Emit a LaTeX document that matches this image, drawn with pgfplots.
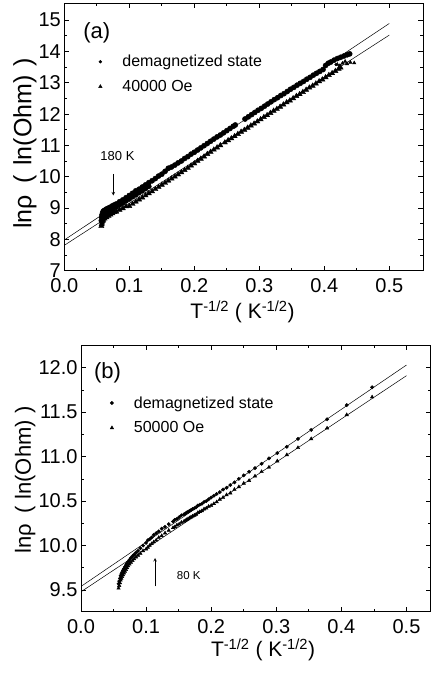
\documentclass[border=0pt]{standalone}
\usepackage{fontspec}
\setmainfont{Liberation Sans}
\usepackage{pgfplots}
\pgfplotsset{compat=1.18}
\newcommand\tickfont{\fontsize{20}{22}\selectfont}
\newcommand\labfont{\fontsize{21}{24}\selectfont}
\newcommand\legfont{\fontsize{16}{18}\selectfont}
\newcommand\ylaba{{\fontsize{25}{28}\selectfont lnρ\hspace{12pt}(\hspace{9pt}ln(Ohm)\hspace{9pt})}}
\newcommand\ylabb{{\fontsize{22}{25}\selectfont lnρ\hspace{10pt}(\hspace{7pt}ln(Ohm)\hspace{7pt})}}
\pgfplotsset{
  myaxis/.style={
    scale only axis, anchor=south west,
    axis line style={line width=0.8pt},
    tick align=inside, tick pos=both,
    xticklabel pos=bottom, yticklabel pos=left,
    major tick length=5pt, minor tick length=3pt,
    every tick/.style={line width=0.7pt, black},
    /pgf/number format/assume math mode=true,
    tick label style={font=\tickfont},
    xticklabel style={yshift=-4pt, /pgf/number format/.cd, fixed, fixed zerofill, precision=1},
    label style={font=\labfont},
    xtick={0,0.1,0.2,0.3,0.4,0.5},
    minor x tick num=1,
    minor y tick num=1,
    legend style={draw=none, fill=none, font=\legfont, inner sep=0pt, outer sep=0pt,
      row sep=12pt, nodes={inner sep=0pt, outer sep=0pt}},
    legend cell align=left,
    legend image code/.code={\path[draw=none,fill=none] (0pt,0pt) -- (22pt,0pt); \draw[##1] plot coordinates {(0pt,0pt)};},
  }
}
\begin{document}
\begin{tikzpicture}[x=1pt,y=1pt]
\useasboundingbox (0,0) rectangle (431,673);
% ---------------- panel (a)
\begin{axis}[myaxis,
  at={(64.3pt,402.3pt)}, width=358.7pt, height=267.4pt,
  xmin=0, xmax=0.5518, ymin=7, ymax=15.534,
  ytick={7,8,...,15},
  xlabel={T\textsuperscript{-1/2} ( K\textsuperscript{-1/2})},
  ylabel={\ylaba},
  xlabel style={at={(axis description cs:0.497,-0.154)}, anchor=center},
  ylabel style={at={(axis description cs:-0.11,0.476)}, anchor=center},
  legend style={at={(axis description cs:0.0957,0.806)}, anchor=north west},
]
\addplot[black, line width=0.5pt, forget plot] coordinates {(0,7.98) (0.5,14.89)};
\addplot[black, line width=0.5pt, forget plot] coordinates {(0,7.81) (0.5,14.52)};
\addplot[only marks, mark=*, mark size=2.6pt, black, forget plot] coordinates {
(0.0570,8.60)(0.0575,8.70)(0.0580,8.78)(0.0590,8.85)(0.0600,8.90)(0.0620,8.93)
(0.0650,8.97)(0.0680,9.00)(0.0710,9.03)(0.0740,9.07)(0.0770,9.10)(0.0800,9.13)
(0.0600,8.72)(0.0630,8.80)(0.0660,8.85)(0.0700,8.90)(0.0750,8.97)(0.0800,9.03)
(0.0850,9.10)(0.0900,9.16)(0.0950,9.23)(0.1000,9.29)(0.1050,9.36)(0.1100,9.42)
(0.1150,9.49)(0.1200,9.55)(0.1250,9.62)(0.1300,9.69)
(0.0850,9.20)(0.0900,9.26)(0.0950,9.33)(0.1000,9.40)(0.1050,9.47)(0.1100,9.55)
(0.1150,9.60)(0.1200,9.67)(0.1250,9.74)(0.1300,9.81)(0.1350,9.87)(0.1400,9.94)
(0.1450,10.02)(0.1500,10.08)(0.1550,10.17)(0.1600,10.27)(0.1650,10.31)(0.1700,10.37)
(0.1750,10.44)(0.1800,10.50)(0.1850,10.58)(0.1900,10.64)(0.1950,10.72)(0.2000,10.78)
(0.2050,10.85)(0.2100,10.92)(0.2150,10.99)(0.2200,11.06)(0.2250,11.13)(0.2300,11.20)
(0.2350,11.27)(0.2400,11.33)(0.2450,11.40)(0.2500,11.47)(0.2550,11.54)(0.2600,11.61)
(0.2630,11.65)
(0.2780,11.84)(0.2830,11.91)(0.2880,11.98)(0.2930,12.05)(0.2980,12.12)(0.3030,12.18)
(0.3080,12.25)(0.3130,12.32)(0.3180,12.39)(0.3230,12.46)(0.3280,12.52)(0.3330,12.59)
(0.3380,12.65)(0.3430,12.72)(0.3480,12.79)(0.3530,12.85)(0.3580,12.92)(0.3630,12.98)
(0.3680,13.04)(0.3730,13.11)(0.3780,13.17)(0.3830,13.24)(0.3880,13.30)(0.3930,13.36)
(0.3980,13.42)
(0.4020,13.55)(0.4060,13.62)(0.4100,13.66)(0.4150,13.72)(0.4200,13.77)(0.4250,13.81)
(0.4300,13.85)(0.4350,13.89)(0.4390,13.92)
};
\addplot[only marks, mark=*, mark size=1.4pt, black, forget plot] coordinates {
(0.4180,13.58)(0.4240,13.56)};
\addplot[only marks, mark=triangle*, mark size=3pt, black, forget plot] coordinates {
(0.0570,8.42)(0.0575,8.48)(0.0580,8.53)(0.0590,8.58)(0.0600,8.62)(0.0620,8.66)
(0.0650,8.70)(0.0680,8.75)(0.0710,8.79)(0.0740,8.83)(0.0770,8.87)(0.0800,8.88)
(0.0850,8.94)(0.0900,8.99)(0.0950,9.05)(0.1000,9.06)(0.1050,9.13)(0.1100,9.20)
(0.1150,9.27)(0.1200,9.33)(0.1250,9.40)(0.1300,9.47)(0.1350,9.53)(0.1400,9.60)
(0.1450,9.67)(0.1500,9.74)(0.1550,9.80)(0.1600,9.87)(0.1650,9.94)(0.1700,10.00)
(0.1750,10.07)(0.1800,10.14)(0.1850,10.21)(0.1900,10.28)(0.1950,10.35)(0.2000,10.42)
(0.2050,10.50)(0.2100,10.57)(0.2150,10.64)(0.2200,10.72)(0.2250,10.79)(0.2300,10.86)
(0.2350,10.93)(0.2400,11.00)
(0.2470,11.09)(0.2520,11.16)(0.2570,11.22)(0.2620,11.29)(0.2670,11.36)(0.2720,11.43)
(0.2770,11.49)(0.2820,11.56)(0.2870,11.63)(0.2920,11.69)(0.2970,11.76)(0.3020,11.83)
(0.3070,11.90)(0.3120,11.96)(0.3170,12.03)(0.3220,12.10)(0.3270,12.16)(0.3320,12.23)
(0.3370,12.30)(0.3420,12.37)(0.3470,12.43)(0.3520,12.50)(0.3570,12.57)(0.3620,12.63)
(0.3670,12.70)(0.3720,12.77)(0.3770,12.84)(0.3820,12.90)(0.3870,12.97)(0.3920,13.04)
(0.3970,13.10)(0.4020,13.17)(0.4070,13.24)(0.4120,13.30)(0.4170,13.37)(0.4220,13.44)
(0.4250,13.48)
};
\addplot[only marks, mark=triangle*, mark size=2pt, black, forget plot] coordinates {
(0.4200,13.58)(0.4280,13.62)(0.4350,13.60)(0.4400,13.65)(0.4460,13.63)(0.4320,13.68)};
\addlegendimage{only marks, mark=*, mark size=1.5pt, black}
\addlegendentry{demagnetized state}
\addlegendimage{only marks, mark=triangle*, mark size=2pt, black}
\addlegendentry{40000 Oe}
\node[font=\fontsize{22}{24}\selectfont] at (axis cs:0.050,14.58) {(a)};
\node[font=\fontsize{13}{15}\selectfont] at (axis cs:0.0818,10.65) {180 K};
\draw[-stealth, line width=0.6pt] (axis cs:0.0754,10.09) -- (axis cs:0.0754,9.40);
\end{axis}
% ---------------- panel (b)
\begin{axis}[myaxis,
  at={(81pt,61.3pt)}, width=349.5pt, height=266.4pt,
  xmin=0, xmax=0.5369, ymin=9.256, ymax=12.252,
  ytick={9.5,10,10.5,11,11.5,12},
  yticklabel style={/pgf/number format/.cd, fixed, fixed zerofill, precision=1},
  xlabel={T\textsuperscript{-1/2} ( K\textsuperscript{-1/2})},
  ylabel={\ylabb},
  xlabel style={at={(axis description cs:0.521,-0.144)}, anchor=center},
  ylabel style={at={(axis description cs:-0.160,0.496)}, anchor=center},
  legend style={at={(axis description cs:0.0836,0.808)}, anchor=north west},
]
\addplot[black, line width=0.5pt, forget plot] coordinates {(0,9.54) (0.5,12.03)};
\addplot[black, line width=0.5pt, forget plot] coordinates {(0,9.48) (0.5,11.91)};
\addplot[only marks, mark=*, mark size=1.7pt, black] coordinates {
(0.0577,9.57)(0.0587,9.60)(0.0598,9.63)(0.0609,9.66)(0.0620,9.68)(0.0632,9.70)
(0.0645,9.72)(0.0659,9.74)(0.0674,9.76)(0.0690,9.78)(0.0707,9.80)(0.0725,9.82)
(0.0745,9.84)(0.0767,9.86)(0.0791,9.88)(0.0816,9.90)(0.0845,9.92)(0.0877,9.94)
(0.0913,9.97)(0.0953,10.00)(0.1000,10.03)(0.1026,10.06)(0.1054,10.07)(0.1085,10.09)
(0.1118,10.12)(0.1155,10.14)(0.1195,10.16)(0.1240,10.19)(0.1291,10.21)(0.1348,10.24)
(0.1414,10.27)(0.1443,10.29)(0.1474,10.30)(0.1508,10.32)(0.1543,10.34)(0.1581,10.35)
(0.1601,10.36)(0.1622,10.37)(0.1644,10.38)(0.1667,10.39)(0.1690,10.40)(0.1715,10.41)
(0.1741,10.42)(0.1768,10.43)(0.1796,10.45)(0.1826,10.46)(0.1857,10.47)(0.1890,10.49)
(0.1925,10.50)(0.1961,10.52)(0.2000,10.54)(0.2041,10.56)(0.2085,10.58)(0.2132,10.60)
(0.2182,10.63)(0.2236,10.65)(0.2294,10.68)(0.2357,10.71)(0.2425,10.75)(0.2500,10.79)
(0.2582,10.83)(0.2673,10.87)(0.2774,10.92)(0.2887,10.98)(0.3015,11.04)(0.3162,11.11)
(0.3333,11.20)(0.3536,11.30)(0.3780,11.42)(0.4082,11.58)(0.4472,11.78)
};
\addlegendentry{demagnetized state}
\addplot[only marks, mark=triangle*, mark size=2pt, black] coordinates {
(0.0577,9.52)(0.0587,9.55)(0.0598,9.58)(0.0609,9.61)(0.0620,9.63)(0.0632,9.65)
(0.0645,9.67)(0.0659,9.69)(0.0674,9.71)(0.0690,9.73)(0.0707,9.75)(0.0725,9.77)
(0.0745,9.79)(0.0767,9.81)(0.0791,9.83)(0.0816,9.85)(0.0845,9.87)(0.0877,9.89)
(0.0913,9.91)(0.0953,9.94)(0.1000,9.96)(0.1026,9.98)(0.1054,10.00)(0.1085,10.02)
(0.1118,10.04)(0.1155,10.06)(0.1195,10.09)(0.1240,10.11)(0.1291,10.14)(0.1348,10.17)
(0.1414,10.20)(0.1443,10.21)(0.1474,10.23)(0.1508,10.24)(0.1543,10.26)(0.1581,10.27)
(0.1601,10.28)(0.1622,10.29)(0.1644,10.30)(0.1667,10.31)(0.1690,10.32)(0.1715,10.33)
(0.1741,10.34)(0.1768,10.35)(0.1796,10.37)(0.1826,10.38)(0.1857,10.39)(0.1890,10.41)
(0.1925,10.42)(0.1961,10.44)(0.2000,10.45)(0.2041,10.47)(0.2085,10.49)(0.2132,10.52)
(0.2182,10.54)(0.2236,10.57)(0.2294,10.59)(0.2357,10.63)(0.2425,10.66)(0.2500,10.70)
(0.2582,10.73)(0.2673,10.78)(0.2774,10.83)(0.2887,10.88)(0.3015,10.95)(0.3162,11.02)
(0.3333,11.10)(0.3536,11.20)(0.3780,11.32)(0.4082,11.47)(0.4472,11.67)
};
\addlegendentry{50000 Oe}
\node[font=\fontsize{22}{24}\selectfont] at (axis cs:0.0407,11.94) {(b)};
\node[font=\fontsize{11.5}{13}\selectfont] at (axis cs:0.1656,9.665) {80 K};
\draw[-stealth, line width=0.6pt] (axis cs:0.1137,9.54) -- (axis cs:0.1137,9.86);
\end{axis}
\end{tikzpicture}
\end{document}
